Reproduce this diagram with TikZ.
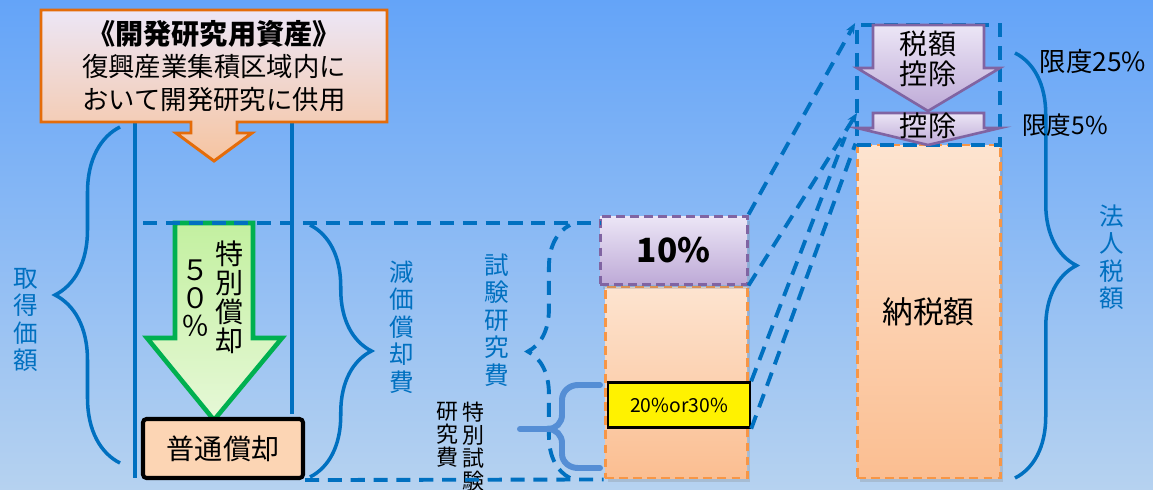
\documentclass[tikz,border=0pt]{standalone}
\usepackage{fontspec}
\setmainfont{Noto Sans CJK JP}
\usetikzlibrary{positioning,decorations.pathreplacing,arrows.meta,shadows}
\definecolor{bgtop}{RGB}{100,164,248}
\definecolor{bgmid}{RGB}{128,188,252}
\definecolor{bgbot}{RGB}{182,210,240}
\definecolor{lineblue}{RGB}{0,112,192}
\definecolor{braceblue}{RGB}{85,142,213}
\definecolor{boxorange}{RGB}{228,108,10}
\definecolor{dashorange}{RGB}{247,150,70}
\definecolor{boxpurple}{RGB}{128,100,162}
\definecolor{arrowgreen}{RGB}{0,176,80}
\definecolor{lavtop}{RGB}{236,230,246}
\definecolor{lavbot}{RGB}{190,170,215}
\definecolor{peachtop}{RGB}{253,228,208}
\definecolor{peachbot}{RGB}{251,190,145}
\definecolor{calloutbot}{RGB}{246,196,160}
\definecolor{greentop}{RGB}{195,240,160}
\definecolor{greenbot}{RGB}{230,248,215}
\definecolor{normalfill}{RGB}{252,213,180}
\tikzset{
  px box/.style 2 args={
    minimum width={#1*0.02cm},
    minimum height={#2*0.02cm},
    inner sep=0pt,
  },
  blue line/.style={
    draw=lineblue,
    line width=2pt,
  },
  blue dash/.style={
    draw=lineblue,
    line width=2.2pt,
    dash pattern=on 8pt off 5pt,
  },
  curly/.style={
    blue line,
    decorate,
    decoration={brace, amplitude=#1},
  },
  vlabel/.style={
    text=lineblue,
    align=center,
    font=\fontsize{14}{15.6}\selectfont,
  },
  peach bar/.style={
    draw=dashorange,
    line width=1.7pt,
    dash pattern=on 5pt off 3pt,
    top color=peachtop,
    bottom color=peachbot,
    drop shadow={opacity=0.25, shadow xshift=1.5pt, shadow yshift=-2pt},
  },
  lavender box/.style={
    draw=boxpurple,
    line width=1.7pt,
    dash pattern=on 5pt off 3pt,
    top color=lavtop,
    bottom color=lavbot,
    drop shadow={opacity=0.25, shadow xshift=1.5pt, shadow yshift=-3pt},
  },
  purple arrow/.style={
    draw=boxpurple,
    line width=1.5pt,
    top color=lavtop,
    bottom color=lavbot,
  },
}

\begin{document}
\begin{tikzpicture}[x=0.02cm, y=-0.02cm, node distance=0pt]
  \fill[top color=bgtop, middle color=bgmid, bottom color=bgbot] (0,0) rectangle (1153,490);
  \useasboundingbox (0,0) rectangle (1153,490);

  \draw[blue line] (135,122) -- (135,478);
  \draw[blue line] (292,122) -- (292,414);

  \draw[draw=boxorange, line width=1.7pt, top color=lavtop, bottom color=calloutbot]
    (41,10) -- (387,10) -- (387,122) -- (237,122) -- (237,133) -- (252,133)
    -- (214,161) -- (176,133) -- (191,133) -- (191,122) -- (41,122) -- cycle;
  \node [align=center, font=\fontsize{15}{18.5}\selectfont] (asset) at (214,66)
    {{\fontsize{16}{18.5}\selectfont\bfseries 《開発研究用資産》}\\復興産業集積区域内に\\おいて開発研究に供用};

  \draw[draw=arrowgreen, line width=2.6pt, top color=greentop, bottom color=greenbot]
    (175,223) -- (253,223) -- (253,338) -- (282,338) -- (214,420)
    -- (147,338) -- (175,338) -- cycle;
  \node [align=center, font=\fontsize{16}{16.5}\selectfont] (special) at (230,297) {特\\別\\償\\却};
  \node [align=center, font=\fontsize{16}{16}\selectfont] (fifty) at (196,298) {５\\０\\％};

  \node [px box={160}{59}, draw=black, line width=2.3pt, rounded corners=2pt,
    fill=normalfill, font=\fontsize{16}{18}\selectfont] (normal) at (223,448.5) {普通償却};

  \draw[curly=37pt] (120,463) -- (120,127);
  \node [vlabel] (cost) at (26,320) {取\\得\\価\\額};
  \draw[curly=35pt] (310,225) -- (310,477);
  \node [vlabel] (depr) at (402,327) {減\\価\\償\\却\\費};
  \draw[curly=24pt, line width=2.2pt, dash pattern=on 8pt off 5pt] (570,478) -- (570,225);
  \node [vlabel] (rdcost) at (497,320) {試\\験\\研\\究\\費};

  \node [px box={142}{191}, peach bar] (rdbar) at (676,382.5) {};
  \node [px box={147}{68}, lavender box, anchor=south east, font=\fontsize{19}{22}\selectfont\bfseries]
    (tenpct) at (rdbar.north east) {10\%};
  \node [px box={142}{45}, draw=black, line width=1.4pt, fill=yellow,
    font=\fontsize{11}{13}\selectfont] (rate) at (679,405) {20\%or30\%};

  \draw[braceblue, line width=3.4pt, line cap=round]
    (600,385) -- (578,385) to[out=180,in=90] (562,400) -- (562,415)
    to[out=270,in=0] (548,429) -- (520,429)
    (548,429) to[out=0,in=90] (562,443) -- (562,454)
    to[out=270,in=180] (578,468) -- (600,468);
  \node [align=center, anchor=north, font=\fontsize{12.5}{13}\selectfont] (sprd1) at (473,396) {特\\別\\試\\験};
  \node [align=center, anchor=north, font=\fontsize{12.5}{13}\selectfont] (sprd2) at (447,396) {研\\究\\費};

  \draw[blue dash] (143,223) -- (600,223);
  \draw[blue dash] (normal.south east) -- (rdbar.south west);

  \node [px box={143}{333}, peach bar, font=\fontsize{17.5}{20}\selectfont] (taxbar) at (928.5,311.5) {納税額};
  \node [px box={143}{120}, blue dash] (limit) at (928.5,85) {};
  \draw[purple arrow] (873,25) -- (984,25) -- (984,68) -- (1000,68) -- (928,111)
    -- (857,68) -- (873,68) -- cycle;
  \node [align=center, font=\fontsize{16}{17}\selectfont] (credit) at (928,59) {税額\\控除};
  \draw[purple arrow] (873,113) -- (984,113) -- (984,128) -- (1000,128) -- (928,145)
    -- (857,128) -- (873,128) -- cycle;
  \node [font=\fontsize{16}{17}\selectfont] (credit2) at (928,126) {控除};

  \coordinate (lower) at (857,113);
  \coordinate (meet) at (845,137);
  \draw[blue dash, -{Stealth[length=6pt, width=5pt]}] (tenpct.north east) -- (limit.north west);
  \draw[blue dash, -{Stealth[length=6pt, width=5pt]}] (tenpct.south east) -- (lower);
  \draw[blue dash] (rate.north east) -- (meet);
  \draw[blue dash] (rate.south east) -- (taxbar.north west);

  \draw[curly=35pt] (1015,53) -- (1015,478);
  \node [font=\fontsize{15}{17}\selectfont] (cap25) at (1093,62) {限度25\%};
  \node [font=\fontsize{14}{16}\selectfont] (cap5) at (1065,125) {限度5\%};
  \node [vlabel] (corptax) at (1112,257) {法\\人\\税\\額};
\end{tikzpicture}
\end{document}
